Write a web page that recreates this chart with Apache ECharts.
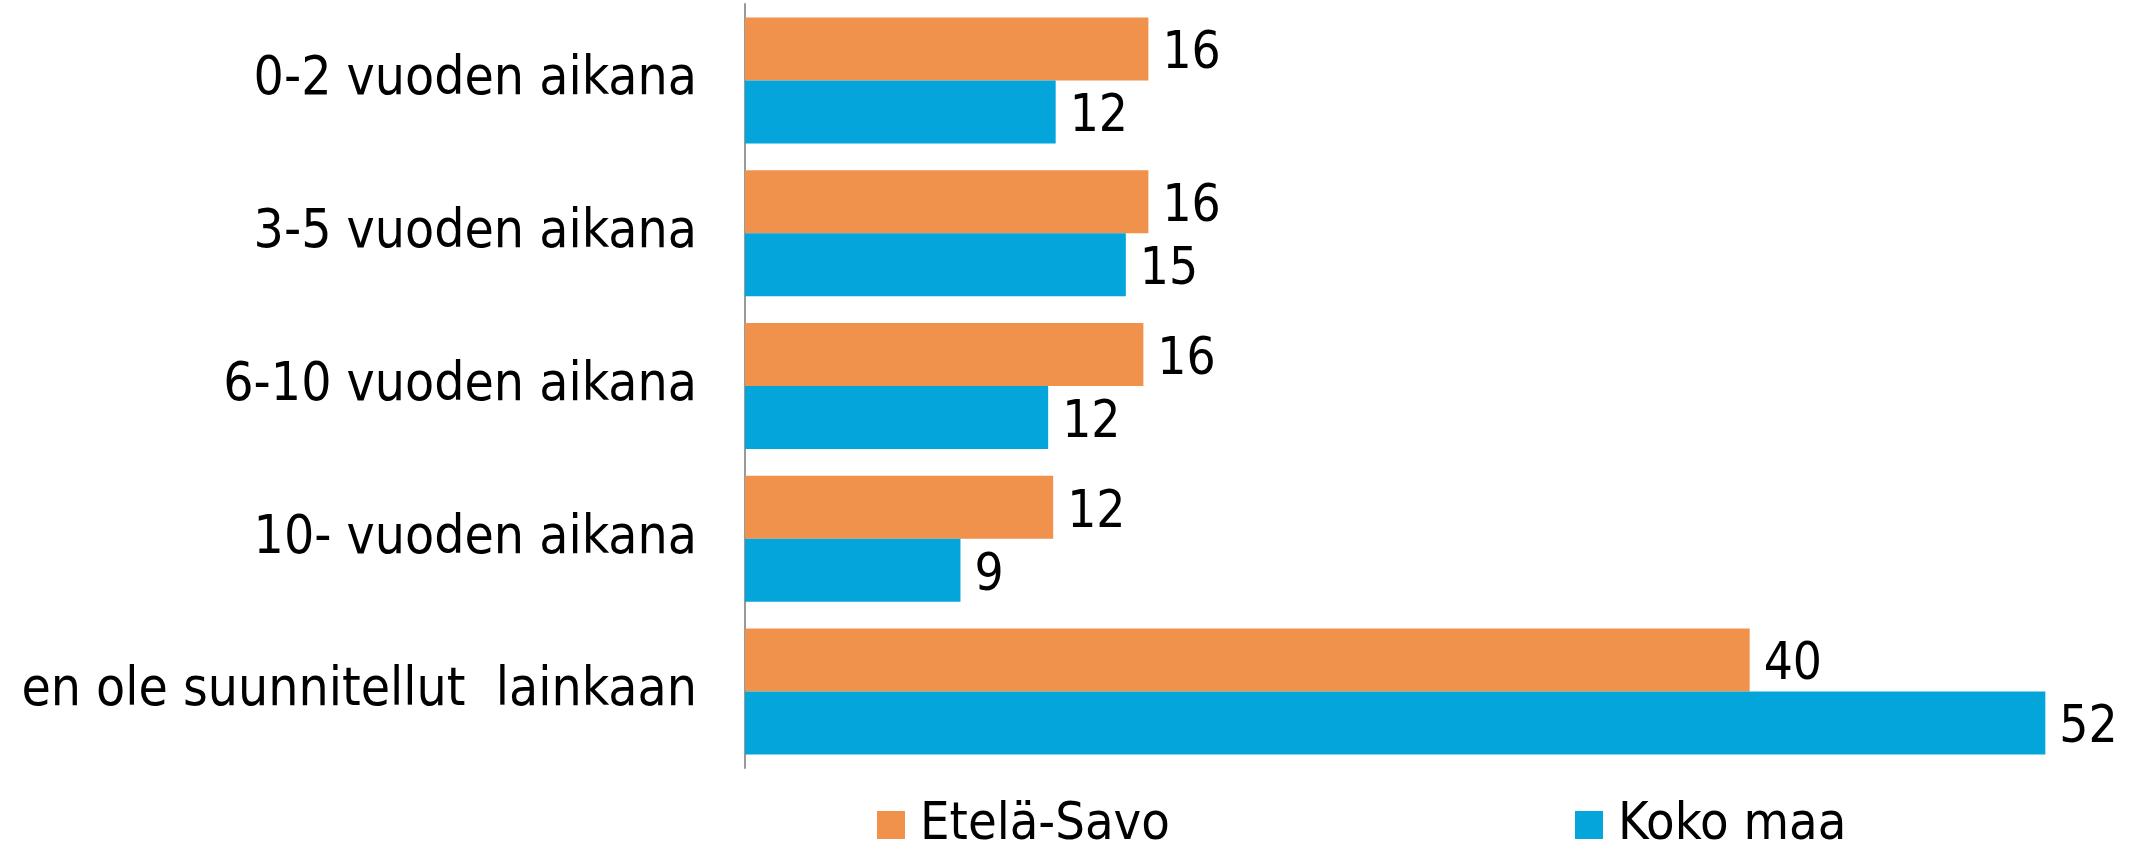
<!DOCTYPE html>
<head>
    <meta charset="utf-8">
    <title>Suunnitelmat</title>
    <script src="https://cdn.jsdelivr.net/npm/echarts@6/dist/echarts.min.js"></script>
    <style>
        html, body { margin: 0; padding: 0; background: #fff; }
        #main { width: 2131px; height: 847px; }
    </style>
</head>
<body>
<div id="main"></div>
<script type="text/javascript">
    // categories (top to bottom)
    var categories = ['0-2 vuoden aikana', '3-5 vuoden aikana', '6-10 vuoden aikana',
        '10- vuoden aikana', 'en ole suunnitellut  lainkaan'];
    // series names
    var seriesNames = ['Etelä-Savo', 'Koko maa'];
    // values (labels show rounded)
    var eteläSavo = [16.1, 16.1, 15.9, 12.3, 40.1];
    var kokoMaa = [12.4, 15.2, 12.1, 8.6, 51.9];

    var font = "'DejaVu Sans Condensed', 'DejaVu Sans', sans-serif";
    var colors = ['#F0914C', '#03A5DA'];

    var myChart = echarts.init(document.getElementById('main'));

    function barSeries(name, data, color) {
        return {
            name: name,
            type: 'bar',
            data: data,
            barWidth: 63,
            barGap: '0%',
            itemStyle: { color: color },
            label: {
                show: true,
                position: 'right',
                distance: 14,
                offset: [0, 6],
                color: '#000',
                fontFamily: font,
                fontSize: 51,
                formatter: function (p) { return Math.round(p.value); }
            }
        };
    }

    // one legend per item so each can sit where the original has it
    function legendAt(name, left) {
        return {
            data: [name],
            left: left,
            top: 799,
            padding: 0,
            itemWidth: 28,
            itemHeight: 28,
            itemGap: 0,
            icon: 'rect',
            textStyle: { fontFamily: font, fontSize: 52, color: '#000', padding: [4, 0, 0, 10] }
        };
    }

    var option = {
        animation: false,
        backgroundColor: '#fff',
        grid: { left: 745, top: 4, right: 8, bottom: 79, containLabel: false },
        xAxis: {
            type: 'value',
            min: 0,
            max: 55,
            show: false
        },
        yAxis: {
            type: 'category',
            data: categories,
            inverse: true,
            axisLine: { show: true, lineStyle: { color: '#999', width: 2 } },
            axisTick: { show: false },
            axisLabel: {
                margin: 48,
                color: '#000',
                fontFamily: font,
                fontSize: 53,
                padding: [8, 0, 0, 0]
            },
            splitLine: { show: false }
        },
        legend: [
            legendAt(seriesNames[0], 877),
            legendAt(seriesNames[1], 1575)
        ],
        series: [
            barSeries(seriesNames[0], eteläSavo, colors[0]),
            barSeries(seriesNames[1], kokoMaa, colors[1])
        ]
    };

    myChart.setOption(option);
</script>
</body>
